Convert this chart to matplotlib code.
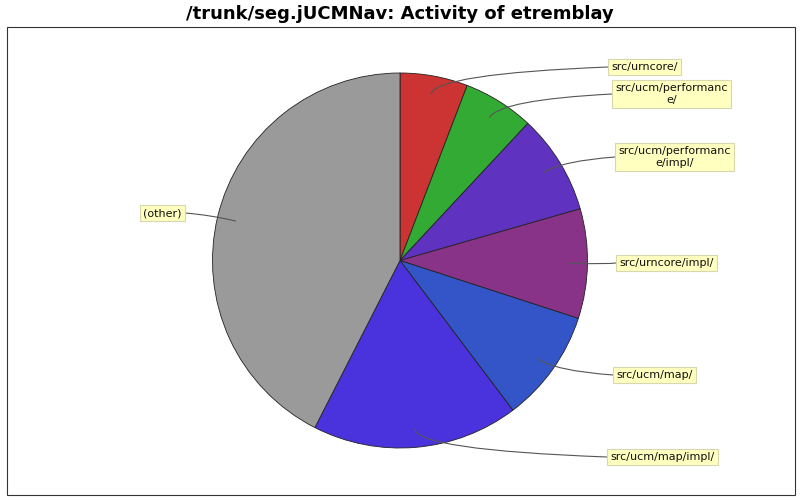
import numpy as np
import matplotlib
matplotlib.use("Agg")
import matplotlib.pyplot as plt
from matplotlib.path import Path
from matplotlib.patches import PathPatch, Rectangle

# slices, clockwise from 12 o'clock
labels = ["src/urncore/", "src/ucm/performanc\ne/", "src/ucm/performanc\ne/impl/",
          "src/urncore/impl/", "src/ucm/map/", "src/ucm/map/impl/", "(other)"]
values = [21, 22, 31, 34, 35, 64, 153]
colors = ["#cc3333", "#33aa33", "#5f33c0", "#883388", "#3355c8", "#4a33dd", "#9a9a9a"]

# label box anchors in pixels (x of box edge nearest the pie, y of box centre)
label_pos = [(608, 67), (612, 94), (615, 157), (616, 263), (613, 375), (607, 457), (185, 213)]

W, H = 800, 500
cx, cy, R = 400, 500 - 260.5, 187.5

fig = plt.figure(figsize=(8, 5), dpi=100)
ax = fig.add_axes([0, 0, 1, 1])
ax.pie(values, colors=colors, startangle=90, counterclock=False,
       center=(cx, cy), radius=R,
       wedgeprops=dict(edgecolor="#222222", linewidth=0.6))
ax.set_xlim(0, W)
ax.set_ylim(0, H)
ax.set_aspect("equal")
ax.axis("off")

# outer frame
ax.add_patch(Rectangle((7, 500 - 495), 788, 468, fill=False, edgecolor="#333333", lw=0.8))

fig.text(0.5, 1 - 14 / H, "/trunk/seg.jUCMNav: Activity of etremblay",
         ha="center", va="center", fontsize=13, fontweight="bold")

total = float(sum(values))
start = 0.0
for lab, v, (lx, ly) in zip(labels, values, label_pos):
    mid = np.radians((start + v / 2) / total * 360)
    start += v
    dx, dy = np.sin(mid), np.cos(mid)
    p0 = (cx + 0.9 * R * dx, cy + 0.9 * R * dy)
    ly_d = H - ly
    right = lx > cx
    p2 = (lx, ly_d)
    # control point along the radial direction, stopping short of the label's row
    k = 40 if abs(dy) < 0.05 else min(abs(ly_d - p0[1]) * 0.75 / abs(dy), 40)
    p1 = (p0[0] + k * dx, p0[1] + k * dy)
    path = Path([p0, p1, p2], [Path.MOVETO, Path.CURVE3, Path.CURVE3])
    ax.add_patch(PathPatch(path, fill=False, edgecolor="#555555", lw=0.8))
    ax.text(lx + 3 if right else lx - 3, ly_d, lab, ha="left" if right else "right",
            va="center", multialignment="center", fontsize=8, color="#111111",
            bbox=dict(boxstyle="square,pad=0.3", facecolor="#ffffc0", edgecolor="#d8d8b0", lw=0.8))

fig.savefig("out.png", dpi=100)
